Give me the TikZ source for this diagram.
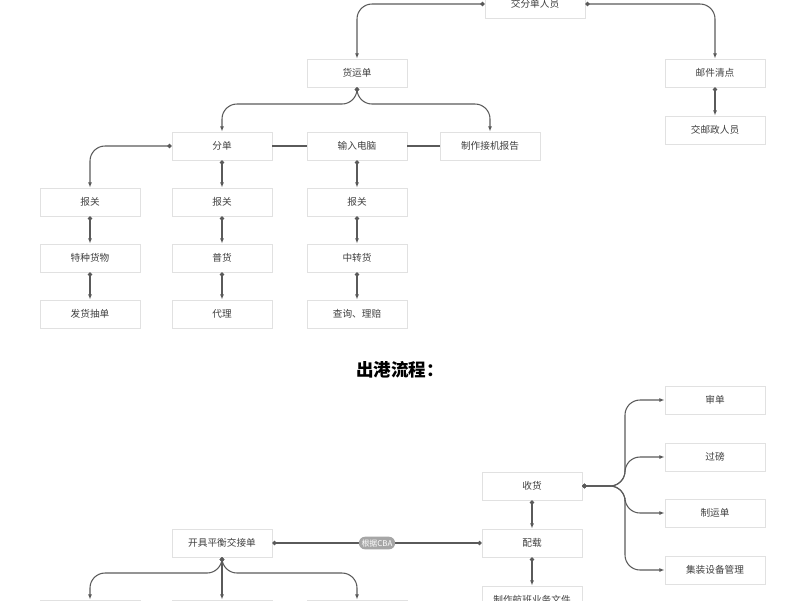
\documentclass[tikz,border=0pt]{standalone}
\usepackage{fontspec}
\setmainfont{Noto Sans CJK SC}
\usetikzlibrary{arrows.meta}
\definecolor{linegray}{RGB}{90,90,90}
\definecolor{boxgray}{RGB}{225,225,225}
\tikzset {
  x=0.02cm, y=-0.02cm,
  % process box
  box/.style = {draw=boxgray, fill=white, minimum width=2cm, minimum height=0.56cm,
    inner sep=0pt, font=\fontsize{5.5}{6}\selectfont, text=black!75},
  % connectors
  conn/.style={{Circle[length=2.4pt]}-{Latex[length=3pt]}, linegray, line width=0.6pt, rounded corners=0.3cm},
  both/.style={{Circle[length=2.4pt]}-{Circle[length=2.4pt]}, linegray, line width=0.6pt},
  plain/.style={linegray, line width=0.6pt},
  pill/.style={fill=gray!70, text=white, rounded corners=0.12cm, inner sep=1.5pt,
    font=\fontsize{4.5}{5}\selectfont},
}
\begin{document}
\begin{tikzpicture}
        \useasboundingbox (0,0) rectangle (800,600);
        \clip (0,0) rectangle (800,600);

        % inbound
        \node[box] (jfd) at (535,4) {交分单人员};
        \node[box] (hyd) at (357,73) {货运单};
        \node[box] (yjqd) at (715,73) {邮件清点};
        \node[box] (jyz) at (715,130) {交邮政人员};
        \node[box] (fd) at (222,146) {分单};
        \node[box] (srdn) at (357,146) {输入电脑};
        \node[box] (zzbg) at (490,146) {制作接机报告};

        \node[box] (bg1) at (90,202) {报关};
        \node[box] (tzhw) at (90,258) {特种货物};
        \node[box] (fhcd) at (90,314) {发货抽单};
        \node[box] (bg2) at (222,202) {报关};
        \node[box] (ph) at (222,258) {普货};
        \node[box] (dl) at (222,314) {代理};
        \node[box] (bg3) at (357,202) {报关};
        \node[box] (zzh) at (357,258) {中转货};
        \node[box] (cxlp) at (357,314) {查询、理赔};

        \draw [conn] (jfd.west) -| (hyd.north);
        \draw [conn] (jfd.east) -| (yjqd.north);
        \draw [conn] (yjqd) -- (jyz);
        \coordinate (hbus) at (357,104);
        \draw [conn] (hyd.south) -- (hbus) -| (fd.north);
        \draw [conn] (hyd.south) -- (hbus) -| (zzbg.north);
        \draw [plain] (fd) -- (srdn);
        \draw [plain] (srdn) -- (zzbg);
        \draw [conn] (fd.west) -| (bg1.north);
        \draw [conn] (fd) -- (bg2);
        \draw [conn] (srdn) -- (bg3);
        \draw [conn] (bg1) -- (tzhw);
        \draw [conn] (tzhw) -- (fhcd);
        \draw [conn] (bg2) -- (ph);
        \draw [conn] (ph) -- (dl);
        \draw [conn] (bg3) -- (zzh);
        \draw [conn] (zzh) -- (cxlp);

        % outbound
        \node[font=\fontsize{10}{12}\selectfont\bfseries] (title) at (400,370) {出港流程：};
        \node[box] (sd) at (715,400) {审单};
        \node[box] (gb) at (715,457) {过磅};
        \node[box] (zyd) at (715,513) {制运单};
        \node[box] (jzsb) at (715,570) {集装设备管理};
        \node[box] (sh) at (532,486) {收货};
        \node[box] (pz) at (532,543) {配载};
        \node[box] (zzhb) at (532,600) {制作航班业务文件};
        \node[box] (kj) at (222,543) {开具平衡交接单};
        \node[box] (b1) at (90,614) {};
        \node[box] (b2) at (222,614) {};
        \node[box] (b3) at (357,614) {};

        \coordinate (trunk) at (625,486);
        \draw [conn] (sh.east) -- (trunk) |- (sd.west);
        \draw [conn] (sh.east) -- (trunk) |- (gb.west);
        \draw [conn] (sh.east) -- (trunk) |- (zyd.west);
        \draw [conn] (sh.east) -- (trunk) |- (jzsb.west);
        \draw [conn] (sh) -- (pz);
        \draw [conn] (pz) -- (zzhb);
        \draw [both] (kj) -- node[pill] {根据CBA} (pz);
        \coordinate (kbus) at (222,573);
        \draw [conn] (kj.south) -- (b2.north);
        \draw [conn] (kj.south) -- (kbus) -| (b1.north);
        \draw [conn] (kj.south) -- (kbus) -| (b3.north);
      \end{tikzpicture}
\end{document}
